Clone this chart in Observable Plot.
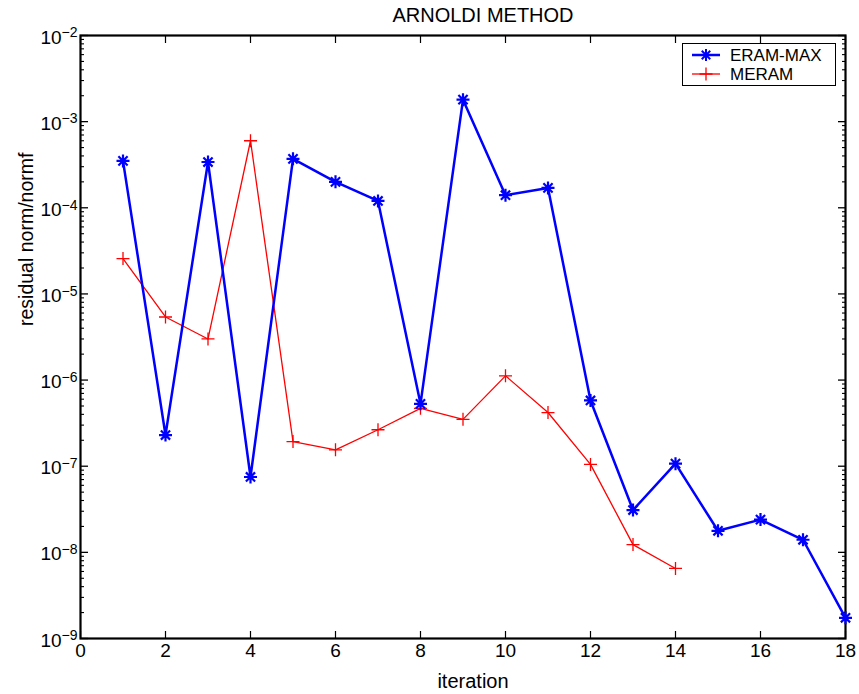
<!DOCTYPE html>
<html><head><meta charset="utf-8">
<script src="https://cdn.jsdelivr.net/npm/d3@7"></script>
<script src="https://cdn.jsdelivr.net/npm/@observablehq/plot@0.6"></script>
<style>body{margin:0;background:#fff} #chart{width:859px;height:694px}</style>
</head><body><div id="chart"></div>
<script>
const titleText = "ARNOLDI METHOD";
const xLabel = "iteration";
const yLabel = "residual norm/normf";
const seriesNames = ["ERAM-MAX", "MERAM"];
const seriesColors = ["#0000ff", "#ff0000"];
const eramIter = [1,2,3,4,5,6,7,8,9,10,11,12,13,14,15,16,17,18];
const eramMax = [3.5e-4, 2.3e-7, 3.4e-4, 7.5e-8, 3.7e-4, 2.0e-4, 1.2e-4, 5.3e-7, 1.8e-3, 1.4e-4, 1.7e-4, 5.8e-7, 3.1e-8, 1.07e-7, 1.78e-8, 2.4e-8, 1.4e-8, 1.74e-9];
const meramIter = [1,2,3,4,5,6,7,8,9,10,11,12,13,14];
const meram = [2.57e-5, 5.4e-6, 3.0e-6, 6.0e-4, 1.93e-7, 1.55e-7, 2.65e-7, 4.7e-7, 3.5e-7, 1.12e-6, 4.2e-7, 1.05e-7, 1.23e-8, 6.5e-9];
const xTicks = [0,2,4,6,8,10,12,14,16,18];
const yMajorTicks = [1e-9,1e-8,1e-7,1e-6,1e-5,1e-4,1e-3,1e-2];
const yMinorTicks = yMajorTicks.slice(0,-1).flatMap(d => [2,3,4,5,6,7,8,9].map(m => m*d));

const eramData = eramIter.map((x,i) => ({iteration:x, residual:eramMax[i]}));
const meramData = meramIter.map((x,i) => ({iteration:x, residual:meram[i]}));

const star8 = {draw(ctx, size){ const r = Math.sqrt(size/Math.PI); const d = r*Math.SQRT1_2;
  ctx.moveTo(-r,0);ctx.lineTo(r,0);ctx.moveTo(0,-r);ctx.lineTo(0,r);
  ctx.moveTo(-d,-d);ctx.lineTo(d,d);ctx.moveTo(-d,d);ctx.lineTo(d,-d);}};
const plusLine = {draw(ctx, size){ const r = Math.sqrt(size/Math.PI);
  ctx.moveTo(-r,0);ctx.lineTo(r,0);ctx.moveTo(0,-r);ctx.lineTo(0,r);}};

const font = "'Liberation Sans', Arial, Helvetica, sans-serif";
const tickOnly = {fill: "none", label: null, stroke: "black"};

const chart = Plot.plot({
  width: 859, height: 694,
  marginLeft: 80, marginRight: 14, marginTop: 35, marginBottom: 56,
  style: {fontFamily: font, background: "white", color: "black"},
  x: {domain: [0, 18]},
  y: {type: "log", domain: [1e-9, 1e-2]},
  marks: [
    // inward ticks
    Plot.axisX(xTicks, {...tickOnly, anchor: "bottom", tickSize: -7, strokeWidth: 1.2}),
    Plot.axisX(xTicks, {...tickOnly, anchor: "top", tickSize: -7, strokeWidth: 1.2}),
    Plot.axisY(yMajorTicks, {...tickOnly, anchor: "left", tickSize: -8, strokeWidth: 1.3}),
    Plot.axisY(yMinorTicks, {...tickOnly, anchor: "left", tickSize: -4, strokeWidth: 1.1}),
    Plot.axisY(yMajorTicks, {...tickOnly, anchor: "right", tickSize: -8, strokeWidth: 1.3}),
    Plot.axisY(yMinorTicks, {...tickOnly, anchor: "right", tickSize: -4, strokeWidth: 1.1}),
    // tick labels
    Plot.axisX(xTicks, {anchor: "bottom", tickSize: 0, tickPadding: 5, fontSize: 19, label: null}),
    Plot.axisY(yMajorTicks, {anchor: "left", tickSize: 0, tickPadding: 3, dy: 2, fontSize: 19, label: null,
      tickFormat: d => String(Math.round(Math.log10(d)))}),
    Plot.frame({stroke: "black", strokeWidth: 2.2}),
    // data
    Plot.line(meramData, {x: "iteration", y: "residual", stroke: seriesColors[1], strokeWidth: 1.3}),
    Plot.dot(meramData, {x: "iteration", y: "residual", symbol: plusLine, r: 6.5, stroke: seriesColors[1], fill: "none", strokeWidth: 1.3}),
    Plot.line(eramData, {x: "iteration", y: "residual", stroke: seriesColors[0], strokeWidth: 2.5}),
    Plot.dot(eramData, {x: "iteration", y: "residual", symbol: star8, r: 6.5, stroke: seriesColors[0], fill: "none", strokeWidth: 2.2}),
    // texts
    Plot.text([titleText], {frameAnchor: "top", dx: 20, dy: -20.4, fontSize: 20, lineAnchor: "middle"}),
    Plot.text([xLabel], {frameAnchor: "bottom", dx: 10, dy: 43, fontSize: 20, lineAnchor: "middle"}),
    Plot.text([yLabel], {frameAnchor: "left", dx: -53.4, dy: -11, rotate: -90, fontSize: 19.5, lineAnchor: "middle"})
  ]
});

// superscript exponents for y tick labels (only the labelled y axis has text)
d3.select(chart).selectAll('g[aria-label="y-axis tick label"] text').each(function(){
  const raw = this.textContent;
  if (!raw) return;
  const e = raw.replace(/^[-\u2212]/, "\u2212");
  const t = d3.select(this);
  t.text(null);
  t.append("tspan").text("10");
  t.append("tspan").attr("dy", "-0.45em").attr("font-size", "14px").text(e);
});

// legend
const svg = d3.select(chart);
const lg = svg.append("g").attr("font-family", font).attr("font-size", 17).attr("text-anchor", "start");
lg.append("rect").attr("x", 682.5).attr("y", 43.5).attr("width", 153).attr("height", 42)
  .attr("fill", "white").attr("stroke", "black").attr("stroke-width", 1);
const legendRows = [
  {name: seriesNames[0], color: seriesColors[0], sym: star8, w: 2.5, sw: 2, r: 6},
  {name: seriesNames[1], color: seriesColors[1], sym: plusLine, w: 1.3, sw: 1.3, r: 6.5}
];
legendRows.forEach((row, i) => {
  const y = 55 + i * 19;
  lg.append("line").attr("x1", 692).attr("x2", 720).attr("y1", y).attr("y2", y)
    .attr("stroke", row.color).attr("stroke-width", row.w);
  lg.append("path").attr("transform", `translate(706,${y})`)
    .attr("d", d3.symbol(row.sym, Math.PI * row.r * row.r)())
    .attr("stroke", row.color).attr("stroke-width", row.sw).attr("fill", "none");
  lg.append("text").attr("x", 730).attr("y", y + 6).attr("text-anchor", "start").text(row.name);
});

document.getElementById("chart").appendChild(chart);
</script>
</body></html>
